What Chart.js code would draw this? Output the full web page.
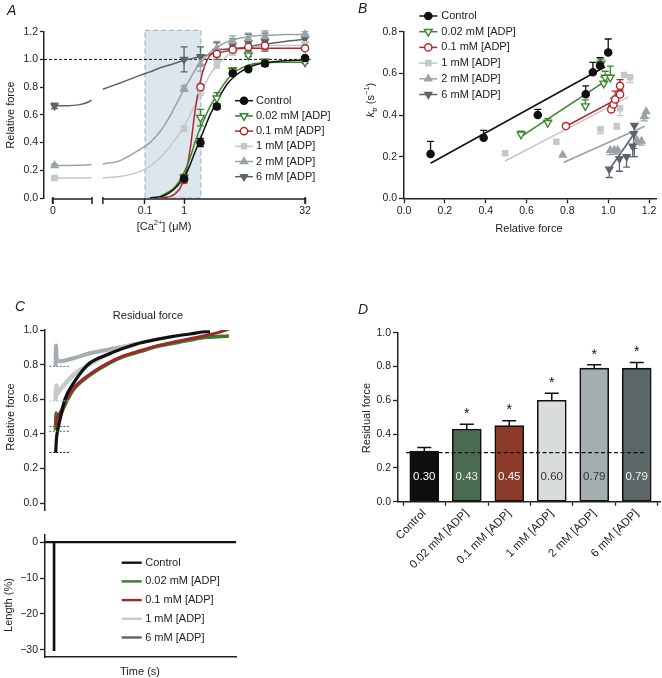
<!DOCTYPE html>
<html>
<head>
<meta charset="utf-8">
<title>ADP and residual force</title>
<script src="https://cdn.jsdelivr.net/npm/chart.js@4.4.1/dist/chart.umd.min.js"></script>
<style>
  body { margin: 0; background: #fff; }
  #fig { position: relative; width: 662px; height: 678px; overflow: hidden; font-family: "Liberation Sans", Arial, sans-serif; color: #222; }
  #fig canvas { position: absolute; }
  .t { position: absolute; font-size: 11px; white-space: nowrap; transform: translate(-50%, -50%); }
  .t.v { transform: translate(-50%, -50%) rotate(-90deg); }
  .panel { position: absolute; font-size: 14px; font-style: italic; }
  sup, sub { font-size: 7.5px; line-height: 0; }
</style>
</head>
<body>
<div id="fig">
  <canvas id="chartA" width="330" height="280" style="left:0;top:0"></canvas>
  <canvas id="chartB" width="332" height="280" style="left:330px;top:0"></canvas>
  <canvas id="chartC" width="330" height="230" style="left:0;top:300px"></canvas>
  <canvas id="chartL" width="250" height="153" style="left:0;top:525px"></canvas>
  <canvas id="chartD" width="332" height="378" style="left:330px;top:300px"></canvas>

  <div class="panel" style="left:7px;top:2px">A</div>
  <div class="panel" style="left:358px;top:0">B</div>
  <div class="panel" style="left:15px;top:298px">C</div>
  <div class="panel" style="left:358px;top:301px">D</div>

  <div class="t v" style="left:10px;top:115px">Relative force</div>
  <div class="t" style="left:164px;top:226px">[Ca<sup>2+</sup>] (μM)</div>
  <div class="t v" style="left:370px;top:100px"><i>k</i><sub>tr</sub> (s<sup>−1</sup>)</div>
  <div class="t" style="left:529px;top:228px">Relative force</div>
  <div class="t" style="left:148px;top:315px">Residual force</div>
  <div class="t v" style="left:10px;top:417px">Relative force</div>
  <div class="t v" style="left:8px;top:605px">Length (%)</div>
  <div class="t" style="left:140px;top:671px">Time (s)</div>
  <div class="t v" style="left:366px;top:418px">Residual force</div>
</div>

<script>
Chart.defaults.font.family = '"Liberation Sans", Arial, sans-serif';
Chart.defaults.font.size = 10.5;
Chart.defaults.color = '#222';

const seriesNames = ['Control', '0.02 mM [ADP]', '0.1 mM [ADP]', '1 mM [ADP]', '2 mM [ADP]', '6 mM [ADP]'];

// ---- panel A: force vs [Ca2+] ----
// the [Ca2+] axis is broken and not to scale, so x is kept in plotted axis units (0-100)
const caTickPos = [0, 36.5, 52, 100];
const caTickLabels = ['0', '0.1', '1', '32'];
const caAxisSegments = [[0, 15.5], [19.8, 100]];
const caShade = [36.5, 58.7];
const forceTicks = [0, 0.2, 0.4, 0.6, 0.8, 1.0, 1.2];

const caX = [0.6, 52, 58.5, 65, 71.3, 77.5, 84.1, 100];
const forceControl = [null, 0.14, 0.40, 0.66, 0.90, 0.93, 0.97, 1.01];
const force002 = [null, 0.15, 0.58, 0.72, 0.92, 1.03, 0.985, 0.98];
const force01 = [null, 0.13, 0.80, 1.04, 1.07, 1.09, 1.10, 1.08];
const force1 = [0.145, 0.50, 0.77, 0.965, 1.06, 1.09, 1.10, 1.11];
const force2 = [0.235, 0.79, 0.965, 1.08, 1.13, 1.15, 1.165, 1.18];
const force6 = [0.665, 1.00, 1.02, 1.06, 1.10, 1.12, 1.13, 1.15];

const forceErrControl = [0, 0.02, 0.03, 0.02, 0.015, 0.015, 0.02, 0.01];
const forceErr002 = [0, 0.02, 0.06, 0.04, 0.02, 0.01, 0.015, 0.01];
const forceErr01 = [0, 0.02, 0.02, 0.02, 0.02, 0.03, 0.04, 0.01];
const forceErr1 = [0.01, 0.02, 0.03, 0.03, 0.03, 0.03, 0.03, 0.02];
const forceErr2 = [0.01, 0.02, 0.05, 0.05, 0.04, 0.04, 0.04, 0.02];
const forceErr6 = [0.02, 0.09, 0.07, 0.06, 0.05, 0.06, 0.06, 0.03];

// fitted curves (null = break in the axis / no curve)
const fitX = [0, 6, 10, 13, 15.3, 17.5, 19.8, 26.6, 34.5, 38.5, 42.5, 44.4, 46.4, 48.4, 50.4, 52.4, 54.4, 56.3, 58.3, 60.3, 62.3, 64.3, 66.3, 69.4, 72.2, 76.2, 80.2, 86.1, 92.1, 100];
const fitControl = [null, null, null, null, null, null, null, null, null, 0, 0.01, 0.02, 0.04, 0.07, 0.11, 0.16, 0.24, 0.33, 0.42, 0.51, 0.60, 0.67, 0.74, 0.83, 0.88, 0.93, 0.96, 0.98, 0.99, 0.995];
const fit002 = [null, null, null, null, null, null, null, null, null, 0, 0.01, 0.03, 0.05, 0.08, 0.13, 0.20, 0.29, 0.40, 0.50, 0.58, 0.66, 0.72, 0.78, 0.86, 0.91, 0.95, 0.97, 0.978, 0.98, 0.98];
const fit01 = [null, null, null, null, null, null, null, null, null, null, 0, 0.005, 0.01, 0.03, 0.07, 0.16, 0.35, 0.62, 0.83, 0.96, 1.03, 1.06, 1.07, 1.075, 1.08, 1.08, 1.08, 1.08, 1.08, 1.08];
const fit1 = [0.145, 0.145, 0.145, 0.145, 0.146, null, 0.145, 0.155, 0.19, 0.23, 0.29, 0.33, 0.37, 0.42, 0.47, 0.53, 0.60, 0.67, 0.75, 0.82, 0.89, 0.94, 0.98, 1.03, 1.06, 1.08, 1.09, 1.10, 1.10, 1.10];
const fit2 = [0.235, 0.235, 0.236, 0.238, 0.242, null, 0.245, 0.27, 0.35, 0.40, 0.48, 0.53, 0.59, 0.66, 0.73, 0.80, 0.86, 0.92, 0.97, 1.01, 1.05, 1.08, 1.10, 1.13, 1.145, 1.16, 1.17, 1.175, 1.18, 1.18];
const fit6 = [0.665, 0.666, 0.672, 0.685, 0.705, null, 0.785, 0.83, 0.885, 0.91, 0.94, 0.95, 0.96, 0.972, 0.985, 0.995, 1.003, 1.012, 1.02, 1.028, 1.036, 1.043, 1.05, 1.062, 1.075, 1.088, 1.10, 1.115, 1.13, 1.145];

// ---- panel B: ktr vs relative force ----
const ktrTicksX = [0, 0.2, 0.4, 0.6, 0.8, 1.0, 1.2];
const ktrTicksY = [0, 0.2, 0.4, 0.6, 0.8];
const relForceControl = [0.13, 0.39, 0.655, 0.89, 0.925, 0.96, 1.0];
const ktrControl = [0.213, 0.291, 0.40, 0.50, 0.605, 0.637, 0.70];
const ktrErrControl = [0.06, 0.035, 0.027, 0.04, 0.048, 0.038, 0.065];
const relForce002 = [0.573, 0.704, 0.888, 0.965, 0.978, 0.985, 1.01];
const ktr002 = [0.307, 0.363, 0.443, 0.648, 0.552, 0.58, 0.58];
const ktrErr002 = [0.015, 0.02, 0.03, 0.02, 0.03, 0.03, 0.055];
const relForce01 = [0.793, 1.015, 1.026, 1.034, 1.058, 1.058];
const ktr01 = [0.347, 0.427, 0.451, 0.475, 0.499, 0.54];
const ktrErr01 = [0.012, 0.02, 0.03, 0.04, 0.02, 0.03];
const relForce1 = [0.495, 0.746, 0.962, 1.042, 1.058, 1.078, 1.107];
const ktr1 = [0.216, 0.272, 0.331, 0.347, 0.432, 0.592, 0.581];
const ktrErr1 = [0.01, 0.01, 0.02, 0.015, 0.035, 0.01, 0.025];
const relForce2 = [0.777, 1.01, 1.03, 1.047, 1.14, 1.163, 1.176, 1.186];
const ktr2 = [0.208, 0.23, 0.232, 0.232, 0.28, 0.275, 0.392, 0.416];
const ktrErr2 = [0, 0.02, 0.02, 0.02, 0.02, 0.02, 0.02, 0.03];
const relForce6 = [1.005, 1.055, 1.09, 1.12, 1.125, 1.128];
const ktr6 = [0.14, 0.19, 0.2, 0.25, 0.31, 0.35];
const ktrErr6 = [0.04, 0.06, 0.05, 0.05, 0.07, 0.15];
// regression lines: [start, end]
const lineXControl = [0.13, 0.985], lineYControl = [0.168, 0.632];
const lineX002 = [0.573, 0.99], lineY002 = [0.296, 0.565];
const lineX01 = [0.785, 1.029], lineY01 = [0.341, 0.469];
const lineX1 = [0.495, 1.099], lineY1 = [0.179, 0.487];
const lineX2 = [0.781, 1.179], lineY2 = [0.172, 0.346];
const lineX6 = [1.004, 1.127], lineY6 = [0.136, 0.31];

// ---- panel C: force redevelopment after release (time in arbitrary units) ----
const timeTicksY = [0, 0.2, 0.4, 0.6, 0.8, 1.0];
const tControl = [0.4, 0.8, 1.5, 2.8, 5.6, 10.3, 15.1, 19.8, 29.2, 38.6, 48, 57.5, 66.8, 76.3, 85.7, 87.6];
const yControl = [0.29, 0.37, 0.42, 0.48, 0.60, 0.69, 0.76, 0.81, 0.856, 0.894, 0.925, 0.946, 0.963, 0.977, 0.99, 0.99];
const t002 = [0.3, 0.6, 1.0, 2.8, 5.6, 10.3, 19.8, 29.2, 38.6, 48, 57.5, 66.8, 76.3, 85.7, 98.3];
const y002 = [0.42, 0.52, 0.46, 0.50, 0.567, 0.654, 0.74, 0.80, 0.846, 0.875, 0.904, 0.923, 0.942, 0.958, 0.965];
const t01 = [0.3, 1.0, 2.8, 5.6, 10.3, 19.8, 29.2, 38.6, 48, 57.5, 66.8, 76.3, 85.7, 92, 98.3];
const y01 = [0.45, 0.49, 0.52, 0.58, 0.66, 0.745, 0.805, 0.85, 0.88, 0.908, 0.93, 0.95, 0.97, 0.985, 1.005];
const t1 = [0.3, 0.8, 1.3, 2.8, 6.6, 10.3, 16, 23.5, 32.8, 42.4, 46.3];
const y1 = [0.59, 0.68, 0.63, 0.654, 0.70, 0.74, 0.78, 0.827, 0.875, 0.913, 0.92];
const t6 = [0.3, 0.6, 1.0, 2.8, 10.3, 19.8, 29.2, 38.6, 44.3, 46.3];
const y6 = [0.79, 0.91, 0.83, 0.82, 0.837, 0.866, 0.885, 0.904, 0.913, 0.92];
const residualMarks = [0.293, 0.415, 0.443, 0.59, 0.79];
const residualMarkT = [-3.2, 8.1];

const lengthTicks = [0, -10, -20, -30];
const lengthT = [-5.65, -0.65, -0.65, -0.4, -0.4, 102.3];
const lengthV = [0, 0, -30, -30, 0, 0];
const traceNames = ['Control', '0.02 mM [ADP]', '0.1 mM [ADP]', '1 mM [ADP]', '6 mM [ADP]'];

// ---- panel D: residual force ----
const residual = [0.30, 0.43, 0.45, 0.60, 0.79, 0.79];
const residualSem = [0.021, 0.028, 0.029, 0.041, 0.02, 0.033];
const significant = [false, true, true, true, true, true];
const residualTicks = [0, 0.2, 0.4, 0.6, 0.8, 1.0];
const controlLevel = 0.29;

// ---------- styles ----------
const colors = ['#111111', '#3b852c', '#b0282a', '#c3c8cb', '#98a3a9', '#5b6469'];
const markerStyle = [
  { pointStyle: 'circle', rotation: 0, fill: '#111111', radius: 3.6 },
  { pointStyle: 'triangle', rotation: 180, fill: '#ffffff', radius: 4.4 },
  { pointStyle: 'circle', rotation: 0, fill: '#ffffff', radius: 3.6 },
  { pointStyle: 'rect', rotation: 0, fill: '#c3c8cb', radius: 3.6 },
  { pointStyle: 'triangle', rotation: 0, fill: '#98a3a9', radius: 4 },
  { pointStyle: 'triangle', rotation: 180, fill: '#5b6469', radius: 4 }
];
const traceColors = ['#111111', '#3d7a2c', '#a2262a', '#c6cacd', '#a4adb2'];
const traceLegendColors = ['#111111', '#3d7a2c', '#a2262a', '#c8c9ca', '#5b6368'];
const residualMarkColors = ['#111111', '#3d7a2c', '#a2262a', '#b9bdc0', '#6b7378'];
const barColors = ['#0e0e0e', '#4a6b4f', '#8b3a29', '#d9dcdc', '#a4aeaf', '#5b6767'];
const barTextColors = ['#ffffff', '#e8ece8', '#ffffff', '#333333', '#333333', '#f2f2f2'];
const ink = '#222222';

// ---------- helpers ----------
function pts(xs, ys) {
  return xs.map((x, i) => ({ x: x, y: ys[i] }));
}

function markerSet(label, i, xs, ys, errs, dir) {
  const m = markerStyle[i];
  return {
    label: label,
    data: pts(xs, ys),
    errors: errs,
    errDir: dir,
    errColor: colors[i],
    borderColor: colors[i],
    pointStyle: m.pointStyle,
    pointRotation: m.rotation,
    pointRadius: m.radius,
    pointBackgroundColor: m.fill,
    pointBorderColor: colors[i],
    pointBorderWidth: 1.4,
    showLine: false,
    clip: false
  };
}

function lineSet(xs, ys, color, width, extra) {
  return Object.assign({
    data: pts(xs, ys),
    showLine: true,
    borderColor: color,
    borderWidth: width,
    pointRadius: 0,
    spanGaps: false
  }, extra || {});
}

function scaleY(ticks, fmt, width, tickLen) {
  return {
    afterBuildTicks: s => { s.ticks = ticks.map(v => ({ value: v })); },
    ticks: { callback: fmt, padding: 2, color: ink },
    grid: { drawOnChartArea: false, tickLength: tickLen, tickColor: ink, tickWidth: 1.3 },
    border: { color: ink, width: 1.5 },
    afterFit: s => { s.width = width; }
  };
}

// error bars from the dataset's own errors array, placed with the chart scales
const errorBars = {
  id: 'errorBars',
  draw(chart, onTop) {
    const ctx = chart.ctx;
    const ys = chart.scales.y;
    chart.data.datasets.forEach((ds, di) => {
      if (!ds.errors || !!ds.errOnTop !== onTop) return;
      const meta = chart.getDatasetMeta(di);
      ctx.save();
      ctx.strokeStyle = ds.errColor;
      ctx.lineWidth = ds.errWidth || 1.3;
      meta.data.forEach((el, i) => {
        const d = ds.data[i];
        const v = d && typeof d === 'object' ? d.y : d;
        const e = ds.errors[i];
        if (v == null || !e) return;
        const up = ds.errDir !== 'down';
        const down = ds.errDir !== 'up';
        const yA = ys.getPixelForValue(up ? v + e : v);
        const yB = ys.getPixelForValue(down ? v - e : v);
        const cw = ds.capWidth || 3.5;
        ctx.beginPath();
        ctx.moveTo(el.x, yA);
        ctx.lineTo(el.x, yB);
        if (up) { ctx.moveTo(el.x - cw, yA); ctx.lineTo(el.x + cw, yA); }
        if (down) { ctx.moveTo(el.x - cw, yB); ctx.lineTo(el.x + cw, yB); }
        ctx.stroke();
      });
      ctx.restore();
    });
  },
  beforeDatasetsDraw(chart) { this.draw(chart, false); },
  afterDatasetsDraw(chart) { this.draw(chart, true); }
};

function legendPlugin(id, cfg) {
  return {
    id: id,
    afterDraw(chart) {
      const ctx = chart.ctx;
      ctx.save();
      ctx.font = '11px "Liberation Sans", Arial, sans-serif';
      ctx.textBaseline = 'middle';
      cfg.items.forEach((it, i) => {
        const y = cfg.y + i * cfg.dy;
        ctx.strokeStyle = it.color;
        ctx.lineWidth = cfg.lineWidth;
        ctx.beginPath();
        ctx.moveTo(cfg.x, y);
        ctx.lineTo(cfg.x + cfg.len, y);
        ctx.stroke();
        if (it.pointStyle) {
          ctx.fillStyle = it.fill;
          ctx.lineWidth = 1.4;
          Chart.helpers.drawPoint(ctx, { pointStyle: it.pointStyle, rotation: it.rotation, radius: it.radius, borderWidth: 1.4 }, cfg.x + cfg.len / 2, y);
        }
        ctx.fillStyle = ink;
        ctx.fillText(it.text, cfg.x + cfg.len + cfg.gap, y);
      });
      ctx.restore();
    }
  };
}

const markerLegendItems = seriesNames.map((n, i) => ({
  text: n, color: colors[i], pointStyle: markerStyle[i].pointStyle,
  rotation: markerStyle[i].rotation, radius: markerStyle[i].radius, fill: markerStyle[i].fill
}));

// ---------- panel A ----------
const caExtras = {
  id: 'caExtras',
  beforeDatasetsDraw(chart) {
    const { ctx, scales: { x, y }, chartArea } = chart;
    const x1 = x.getPixelForValue(caShade[0]);
    const x2 = x.getPixelForValue(caShade[1]);
    const yT = y.getPixelForValue(1.21);
    const yB = y.getPixelForValue(0);
    ctx.save();
    ctx.fillStyle = '#dde6ec';
    ctx.fillRect(x1, yT, x2 - x1, yB - yT);
    ctx.setLineDash([5, 3]);
    ctx.strokeStyle = '#8fb1c1';
    ctx.lineWidth = 1;
    ctx.strokeRect(x1, yT, x2 - x1, yB - yT);
    ctx.setLineDash([3, 2]);
    ctx.strokeStyle = '#111';
    ctx.beginPath();
    ctx.moveTo(chartArea.left, y.getPixelForValue(1));
    ctx.lineTo(chartArea.right - 2, y.getPixelForValue(1));
    ctx.stroke();
    ctx.restore();
  },
  afterDraw(chart) {
    // broken [Ca2+] axis
    const { ctx, scales: { x }, chartArea } = chart;
    const yA = chartArea.bottom + 1;
    ctx.save();
    ctx.strokeStyle = ink;
    ctx.lineWidth = 1.5;
    caAxisSegments.forEach(seg => {
      const a = x.getPixelForValue(seg[0]);
      const b = x.getPixelForValue(seg[1]);
      ctx.beginPath();
      ctx.moveTo(a, yA);
      ctx.lineTo(b, yA);
      ctx.moveTo(a, yA - 2); ctx.lineTo(a, yA + 5);
      ctx.moveTo(b, yA - 2); ctx.lineTo(b, yA + 5);
      ctx.stroke();
    });
    ctx.restore();
  }
};

const forceSets = [forceControl, force002, force01, force1, force2, force6];
const forceErrs = [forceErrControl, forceErr002, forceErr01, forceErr1, forceErr2, forceErr6];
const fits = [fitControl, fit002, fit01, fit1, fit2, fit6];

new Chart(document.getElementById('chartA'), {
  type: 'scatter',
  data: {
    datasets: [
      ...seriesNames.map((n, i) => markerSet(n, i, caX, forceSets[i], forceErrs[i], 'both')),
      ...fits.map((f, i) => lineSet(fitX, f, colors[i], 1.5, { cubicInterpolationMode: 'monotone' }))
    ]
  },
  options: {
    responsive: false,
    animation: false,
    layout: { padding: { left: 0, top: 31.7, right: 17.4, bottom: 0 } },
    plugins: { legend: { display: false }, tooltip: { enabled: false } },
    scales: {
      x: {
        type: 'linear', min: -3.57, max: 103,
        afterBuildTicks: s => { s.ticks = caTickPos.map(v => ({ value: v })); },
        ticks: { callback: (v, i) => caTickLabels[i], autoSkip: false, maxRotation: 0, padding: 1, color: ink },
        grid: { drawOnChartArea: false, tickLength: 6, tickColor: ink, tickWidth: 1.5 },
        border: { display: false },
        afterFit: s => { s.height = 82; }
      },
      y: Object.assign(scaleY(forceTicks, v => v.toFixed(1), 44, 4), { min: 0, max: 1.2 })
    }
  },
  plugins: [caExtras, errorBars, legendPlugin('legendA', { x: 235, y: 100.7, dy: 15.2, len: 18, gap: 3, lineWidth: 1.5, items: markerLegendItems })]
});

// ---------- panel B ----------
const relForces = [relForceControl, relForce002, relForce01, relForce1, relForce2, relForce6];
const ktrs = [ktrControl, ktr002, ktr01, ktr1, ktr2, ktr6];
const ktrErrs = [ktrErrControl, ktrErr002, ktrErr01, ktrErr1, ktrErr2, ktrErr6];
const ktrErrDir = ['up', 'up', 'up', 'down', 'down', 'down'];
const linesX = [lineXControl, lineX002, lineX01, lineX1, lineX2, lineX6];
const linesY = [lineYControl, lineY002, lineY01, lineY1, lineY2, lineY6];

new Chart(document.getElementById('chartB'), {
  type: 'scatter',
  data: {
    datasets: [
      ...seriesNames.map((n, i) => markerSet(n, i, relForces[i], ktrs[i], ktrErrs[i], ktrErrDir[i])),
      ...linesX.map((lx, i) => lineSet(lx, linesY[i], colors[i], 1.6))
    ]
  },
  options: {
    responsive: false,
    animation: false,
    layout: { padding: { left: 0, top: 31.7, right: 2, bottom: 0 } },
    plugins: { legend: { display: false }, tooltip: { enabled: false } },
    scales: {
      x: {
        type: 'linear', min: 0, max: 1.235,
        afterBuildTicks: s => { s.ticks = ktrTicksX.map(v => ({ value: v })); },
        ticks: { callback: v => v.toFixed(1), autoSkip: false, maxRotation: 0, padding: 2, color: ink },
        grid: { drawOnChartArea: false, tickLength: 5, tickColor: ink, tickWidth: 1.3 },
        border: { color: ink, width: 1.5 },
        afterFit: s => { s.height = 81.7; }
      },
      y: Object.assign(scaleY(ktrTicksY, v => v.toFixed(1), 74, 5), { min: 0, max: 0.8 })
    }
  },
  plugins: [errorBars, legendPlugin('legendB', { x: 89.3, y: 16, dy: 15.7, len: 18, gap: 4, lineWidth: 1.5, items: markerLegendItems })]
});

// ---------- panel C (top): force traces ----------
const traceT = [tControl, t002, t01, t1, t6];
const traceY = [yControl, y002, y01, y1, y6];
const traceWidth = [3.2, 3.6, 3, 4.5, 4];
const traceOrder = [0, 2, 1, 3, 4]; // first dataset ends up on top

new Chart(document.getElementById('chartC'), {
  type: 'scatter',
  data: {
    datasets: [
      ...residualMarks.map((r, i) => lineSet(residualMarkT, [r, r], residualMarkColors[i], 1, { borderDash: [2, 1.5] })),
      ...traceOrder.map(i => lineSet(traceT[i], traceY[i], traceColors[i], traceWidth[i], { cubicInterpolationMode: 'monotone' }))
    ]
  },
  options: {
    responsive: false,
    animation: false,
    layout: { padding: { left: 0, top: 30, right: 94, bottom: 20 } },
    plugins: { legend: { display: false }, tooltip: { enabled: false } },
    scales: {
      x: { type: 'linear', min: -5.65, max: 102.3, display: false },
      y: Object.assign(scaleY(timeTicksY, v => v.toFixed(1), 45, 5), { min: -0.04, max: 1.0 })
    }
  }
});

// ---------- panel C (bottom): length step ----------
const traceLegendItems = traceNames.map((n, i) => ({ text: n, color: traceLegendColors[i] }));

new Chart(document.getElementById('chartL'), {
  type: 'scatter',
  data: { datasets: [lineSet(lengthT, lengthV, '#111', 2.2)] },
  options: {
    responsive: false,
    animation: false,
    layout: { padding: { left: 0, top: 10, right: 14, bottom: 21 } },
    plugins: { legend: { display: false }, tooltip: { enabled: false } },
    scales: {
      x: {
        type: 'linear', min: -5.65, max: 102.3,
        ticks: { display: false },
        grid: { display: false },
        border: { color: ink, width: 1.5 },
        afterFit: s => { s.height = 0; }
      },
      y: Object.assign(scaleY(lengthTicks, v => (v < 0 ? '\u2212' + Math.abs(v) : String(v)), 45, 5), { min: -32, max: 2 })
    }
  },
  plugins: [legendPlugin('legendC', { x: 121.7, y: 37.7, dy: 18.7, len: 20, gap: 3.5, lineWidth: 2.4, items: traceLegendItems })]
});

// ---------- panel D: residual force bars ----------
const barNotes = {
  id: 'barNotes',
  afterDatasetsDraw(chart) {
    const { ctx, scales: { x, y } } = chart;
    ctx.save();
    ctx.strokeStyle = '#111';
    ctx.lineWidth = 1.3;
    ctx.setLineDash([4, 2.5]);
    ctx.beginPath();
    ctx.moveTo(x.getPixelForValue(-0.43), y.getPixelForValue(controlLevel));
    ctx.lineTo(x.getPixelForValue(5.19), y.getPixelForValue(controlLevel));
    ctx.stroke();
    ctx.setLineDash([]);
    ctx.textAlign = 'center';
    ctx.textBaseline = 'middle';
    residual.forEach((v, i) => {
      const px = x.getPixelForValue(i);
      ctx.font = '11.5px "Liberation Sans", Arial, sans-serif';
      ctx.fillStyle = barTextColors[i];
      ctx.fillText(v.toFixed(2), px, y.getPixelForValue(0.15));
      if (significant[i]) {
        ctx.font = '14px "Liberation Sans", Arial, sans-serif';
        ctx.fillStyle = '#111';
        ctx.fillText('*', px, y.getPixelForValue(v + residualSem[i] + 0.06));
      }
    });
    ctx.restore();
  }
};

new Chart(document.getElementById('chartD'), {
  type: 'bar',
  data: {
    datasets: [{
      data: residual.map((v, i) => ({ x: i, y: v })),
      backgroundColor: barColors,
      borderColor: '#111',
      borderWidth: 1.6,
      borderSkipped: false,
      barThickness: 29,
      errors: residualSem,
      errDir: 'up',
      errColor: '#111',
      errWidth: 1.5,
      capWidth: 7,
      errOnTop: true
    }]
  },
  options: {
    responsive: false,
    animation: false,
    layout: { padding: { left: 0, top: 32.7, right: 2, bottom: 0 } },
    plugins: { legend: { display: false }, tooltip: { enabled: false } },
    scales: {
      x: {
        type: 'linear', min: -0.619, max: 5.548, offset: false,
        afterBuildTicks: s => { s.ticks = seriesNames.map((n, i) => ({ value: i })); },
        ticks: { callback: (v, i) => seriesNames[i], autoSkip: false, minRotation: 45, maxRotation: 45, padding: 1, color: ink, font: { size: 11.5 } },
        grid: { drawOnChartArea: false, tickLength: 4, tickColor: ink, tickWidth: 1.3 },
        border: { color: ink, width: 1.5 },
        afterFit: s => { s.height = 176.3; }
      },
      y: Object.assign(scaleY(residualTicks, v => v.toFixed(1), 68, 5), { min: 0, max: 1.0 })
    }
  },
  plugins: [errorBars, barNotes]
});
</script>
</body>
</html>
